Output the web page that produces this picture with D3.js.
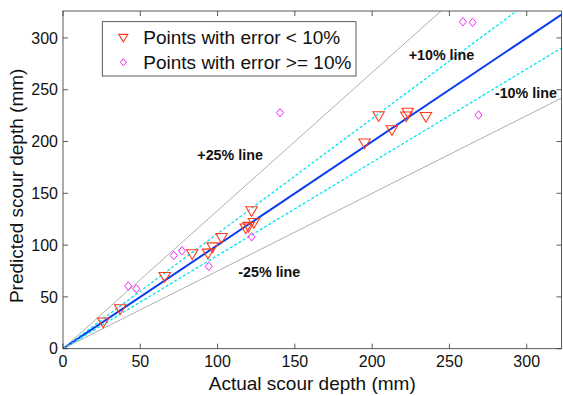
<!DOCTYPE html>
<html><head><meta charset="utf-8">
<script src="https://cdn.jsdelivr.net/npm/d3@7"></script>
<style>
html,body{margin:0;padding:0;background:#fff;}
svg{display:block;font-family:"Liberation Sans",Arial,Helvetica,sans-serif;}
</style></head>
<body>
<svg id="chart" width="563" height="396"></svg>
<script>
// ---- data ----
const goodActual    = [26, 37, 65.8, 83.6, 93.8, 96.8, 102.6, 118.2, 120, 123.5, 122, 195.1, 204.2, 212.8, 222.1, 223, 234.8];
const goodPredicted = [25.5, 38.3, 69.5, 91.4, 92, 98, 107.1, 116.2, 117.8, 121.6, 132.9, 198.3, 224.6, 211.1, 224.3, 228, 223.9];
const badActual     = [42.2, 47.4, 71.7, 77, 94.3, 122, 140.4, 258.7, 265, 268.8];
const badPredicted  = [60.5, 57.9, 90, 94.6, 79.5, 108, 227.8, 315.6, 315, 225.6];
const refRatios     = [1/0.75, 1/0.9, 1, 0.9, 0.75];
const refKinds      = ["gray", "cyan", "blue", "cyan", "gray"];
const tickValues    = [0, 50, 100, 150, 200, 250, 300];
const annotText     = ["+25% line", "+10% line", "-10% line", "-25% line"];
const annotX        = [86.9, 223.6, 279.4, 113.4];
const annotY        = [187, 283.5, 246.5, 74];
const legendLabels  = ["Points with error < 10%", "Points with error >= 10%"];

// ---- layout ----
const L = 63, R = 561.5, T = 11, B = 348.7;
const x = d3.scaleLinear().domain([0, 322.5]).range([L, R]);
const y = d3.scaleLinear().domain([0, 326]).range([B, T]);
const svg = d3.select("#chart");

svg.append("defs").append("clipPath").attr("id", "clip")
  .append("rect").attr("x", L).attr("y", T).attr("width", R - L).attr("height", B - T);

const styles = {
  gray: {stroke: "#9a9a9a", width: 0.8, dash: null},
  cyan: {stroke: "#00e5ee", width: 1.3, dash: "3,2"},
  blue: {stroke: "#0a3cf0", width: 2, dash: null}
};

const plot = svg.append("g").attr("clip-path", "url(#clip)");
const xMax = x.domain()[1];
refRatios.forEach((k, i) => {
  const s = styles[refKinds[i]];
  plot.append("line")
    .attr("x1", x(0)).attr("y1", y(0))
    .attr("x2", x(xMax)).attr("y2", y(k * xMax))
    .attr("stroke", s.stroke).attr("stroke-width", s.width)
    .attr("stroke-dasharray", s.dash);
});

// axes (box with inward ticks)
const tl = 5;
const axG = svg.append("g");
axG.append("rect").attr("x", L).attr("y", T).attr("width", R - L).attr("height", B - T)
  .attr("fill", "none").attr("stroke", "#333").attr("stroke-width", 0.8);
tickValues.forEach(v => {
  axG.append("line").attr("x1", x(v)).attr("x2", x(v)).attr("y1", B).attr("y2", B - tl).attr("stroke", "#333").attr("stroke-width", 0.8);
  axG.append("line").attr("x1", x(v)).attr("x2", x(v)).attr("y1", T).attr("y2", T + tl).attr("stroke", "#333").attr("stroke-width", 0.8);
  axG.append("line").attr("y1", y(v)).attr("y2", y(v)).attr("x1", L).attr("x2", L + tl).attr("stroke", "#333").attr("stroke-width", 0.8);
  axG.append("line").attr("y1", y(v)).attr("y2", y(v)).attr("x1", R).attr("x2", R - tl).attr("stroke", "#333").attr("stroke-width", 0.8);
  axG.append("text").attr("x", x(v)).attr("y", B + 13).attr("dy", "0.35em")
    .attr("text-anchor", "middle").attr("font-size", 16).attr("fill", "#111").text(v);
  axG.append("text").attr("x", L - 5).attr("y", y(v)).attr("dy", "0.35em")
    .attr("text-anchor", "end").attr("font-size", 16).attr("fill", "#111").text(v);
});

svg.append("text").attr("x", (L + R) / 2).attr("y", 383).attr("dy", "0.35em")
  .attr("text-anchor", "middle").attr("font-size", 19).attr("fill", "#111")
  .text("Actual scour depth (mm)");
svg.append("text").attr("transform", `translate(16,${(T + B) / 2 + 6}) rotate(-90)`).attr("dy", "0.35em")
  .attr("text-anchor", "middle").attr("font-size", 19).attr("fill", "#111")
  .text("Predicted scour depth (mm)");

// annotations
annotText.forEach((t, i) => {
  svg.append("text").attr("x", x(annotX[i])).attr("y", y(annotY[i])).attr("dy", "0.35em")
    .attr("font-size", 14.3).attr("font-weight", "bold").attr("fill", "#111").text(t);
});

// markers
const triPath = (cx, cy, r) => `M${cx - r},${cy - r * 0.75}L${cx + r},${cy - r * 0.75}L${cx},${cy + r * 0.95}Z`;
const diaPath = (cx, cy, r) => `M${cx},${cy - r * 1.2}L${cx + r},${cy}L${cx},${cy + r * 1.2}L${cx - r},${cy}Z`;

const good = goodActual.map((a, i) => [a, goodPredicted[i]]);
const bad = badActual.map((a, i) => [a, badPredicted[i]]);

svg.append("g").selectAll("path").data(bad).join("path")
  .attr("d", d => diaPath(x(d[0]), y(d[1]), 3.5))
  .attr("fill", "none").attr("stroke", "#ff22ff").attr("stroke-width", 1);
svg.append("g").selectAll("path").data(good).join("path")
  .attr("d", d => triPath(x(d[0]), y(d[1]), 5.7))
  .attr("fill", "none").attr("stroke", "#ff3a1a").attr("stroke-width", 1.1);

// legend
const lg = svg.append("g");
lg.append("rect").attr("x", 102.3).attr("y", 21.7).attr("width", 253.7).attr("height", 54.3)
  .attr("fill", "#fff").attr("stroke", "#333").attr("stroke-width", 0.8);
lg.append("path").attr("d", triPath(123.3, 37.7, 4.5)).attr("fill", "none").attr("stroke", "#ff3a1a").attr("stroke-width", 1.1);
lg.append("path").attr("d", diaPath(123.3, 62.3, 3)).attr("fill", "none").attr("stroke", "#ff22ff").attr("stroke-width", 1);
legendLabels.forEach((t, i) => {
  lg.append("text").attr("x", 143.3).attr("y", i === 0 ? 37.5 : 62.5).attr("dy", "0.35em")
    .attr("font-size", 19).attr("fill", "#111").text(t);
});
</script>
</body></html>
